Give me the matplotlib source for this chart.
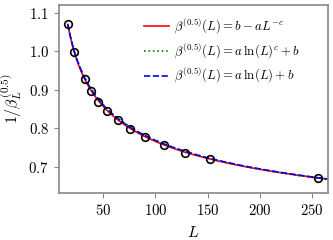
import numpy as np
import matplotlib
matplotlib.use("Agg")
import matplotlib.pyplot as plt

plt.rcParams['font.family'] = 'serif'
plt.rcParams['font.serif'] = ['cmr10']
plt.rcParams['mathtext.fontset'] = 'cm'
plt.rcParams['axes.formatter.use_mathtext'] = True

# system sizes and measured 1/beta values
L_vals = [16, 22, 32, 38, 45, 54, 64, 76, 90, 108, 128, 152, 256]
inv_beta = [1.070, 0.997, 0.928, 0.897, 0.868, 0.845, 0.821, 0.798, 0.778, 0.757, 0.737, 0.720, 0.670]

# fit parameters
p_pow = dict(a=9.62, b=9.963, c=0.0229)     # b - a L^-c
p_lnc = dict(a=0.1786, b=0.4134, c=1.05)    # a ln(L)^c + b
p_ln = dict(a=0.2001, b=0.3798)             # a ln(L) + b

L_fit = np.linspace(16, 266, 400)
fit_pow = p_pow['b'] - p_pow['a'] * L_fit ** (-p_pow['c'])
fit_lnc = p_lnc['a'] * np.log(L_fit) ** p_lnc['c'] + p_lnc['b']
fit_ln = p_ln['a'] * np.log(L_fit) + p_ln['b']

fig, ax = plt.subplots(figsize=(3.33, 2.4), dpi=100)
fig.subplots_adjust(left=0.177, right=0.984, top=0.979, bottom=0.196)

ax.plot(L_vals, inv_beta, 'o', mfc='none', mec='black', ms=5.5, mew=1.2, zorder=5)
ax.plot(L_fit, 1 / fit_pow, '-', color='red', lw=1.2,
        label=r'$\beta^{(0.5)}(L) = b - aL^{-c}$')
ax.plot(L_fit, 1 / fit_lnc, ':', color='green', lw=1.2,
        label=r'$\beta^{(0.5)}(L) = a\,\ln(L)^c + b$')
ax.plot(L_fit, 1 / fit_ln, '--', color='blue', lw=1.2,
        label=r'$\beta^{(0.5)}(L) = a\,\ln(L) + b$')

ax.set_xlim(7.5, 265)
ax.set_ylim(0.632, 1.12)
ax.set_xticks([50, 100, 150, 200, 250])
ax.set_yticks([0.7, 0.8, 0.9, 1.0, 1.1])
ax.set_xlabel(r'$L$', fontsize=11.5, labelpad=5)
ax.set_ylabel(r'$1/\beta_L^{(0.5)}$', fontsize=11.5, labelpad=3)

for sp in ax.spines.values():
    sp.set_color('#888888')
    sp.set_linewidth(1.2)
ax.tick_params(colors='#888888', labelcolor='black', labelsize=10.7, length=3.5)

ax.legend(loc='upper right', bbox_to_anchor=(0.937, 1.0), frameon=False,
          fontsize=9.2, handletextpad=0.35, labelspacing=0.42)

plt.savefig('out.png', dpi=100)
